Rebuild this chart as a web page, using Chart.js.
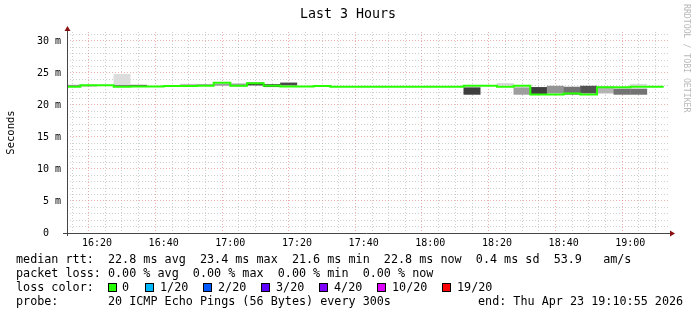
<!DOCTYPE html>
<html lang="en">
<head>
<meta charset="UTF-8">
<title>Last 3 Hours</title>
<script src="https://cdn.jsdelivr.net/npm/chart.js"></script>
<style>
  body { margin: 0; background: #fff; }
  #wrap { position: relative; width: 697px; height: 315px; font-family: "DejaVu Sans Mono", monospace; color: #000; }
  #wrap canvas { position: absolute; left: 0; top: 0; }
  #title { position: absolute; left: 248px; width: 200px; top: 5px; text-align: center; font-size: 13.3px; line-height: 18px; }
  .row { position: absolute; left: 16px; font-size: 11.75px; line-height: 14px; white-space: pre; }
  .sw { position: absolute; top: 283px; width: 7px; height: 7px; border: 1px solid #000; }
  .lab { position: absolute; top: 280px; font-size: 11.75px; line-height: 14px; white-space: pre; }
  #mark { position: absolute; left: 682px; top: 4px; writing-mode: vertical-rl; font-size: 8.2px; color: #b8b8b8; white-space: pre; }
</style>
</head>
<body>
<div id="wrap">
  <canvas id="smoke" width="697" height="315"></canvas>
  <div id="title">Last 3 Hours</div>
  <div id="mark">RRDTOOL / TOBI OETIKER</div>
  <div class="row" style="top:252px">median rtt:  22.8 ms avg  23.4 ms max  21.6 ms min  22.8 ms now  0.4 ms sd  53.9   am/s</div>
  <div class="row" style="top:266px">packet loss: 0.00 % avg  0.00 % max  0.00 % min  0.00 % now</div>
  <div class="row" style="top:280px">loss color:</div>
  <div id="losses"></div>
  <div class="row" style="top:294px">probe:       20 ICMP Echo Pings (56 Bytes) every 300s</div>
  <div class="row" style="top:294px;left:478px">end: Thu Apr 23 19:10:55 2026</div>
</div>

<script>
  // 5 minute slots (start time of each slot)
  const times = ['16:10','16:15','16:20','16:25','16:30','16:35','16:40','16:45','16:50','16:55',
                 '17:00','17:05','17:10','17:15','17:20','17:25','17:30','17:35','17:40','17:45',
                 '17:50','17:55','18:00','18:05','18:10','18:15','18:20','18:25','18:30','18:35',
                 '18:40','18:45','18:50','18:55','19:00','19:05'];

  // median rtt in ms
  const median = [22.86, 22.86, 23.07, 23.10, 22.86, 22.90, 22.90, 22.97, 22.97, 23.00,
                  23.48, 23.00, 23.40, 23.00, 22.88, 22.88, 22.95, 22.85, 22.85, 22.85,
                  22.85, 22.85, 22.85, 22.85, 22.85, 23.00, 23.00, 22.86, 23.00, 21.62,
                  21.62, 21.80, 21.62, 22.75, 22.75, 22.86];

  // smoke band (spread of the pings) and how dense it is
  const smokeLow  = [22.90, 22.90, null, 22.80, 22.95, null, null, 23.00, 23.00, 23.00,
                     22.90, 23.05, 22.80, 23.05, null, null, null, null, null, null,
                     null, null, null, null, 21.60, null, 23.05, 21.60, 21.60, 21.80,
                     21.60, 21.80, 21.80, 21.60, 21.60, null];
  const smokeHigh = [23.15, 23.15, null, 23.10, 23.15, null, null, 23.30, 23.25, 23.30,
                     23.35, 23.50, 23.25, 23.50, null, null, null, null, null, null,
                     null, null, null, null, 22.75, null, 23.40, 22.75, 22.80, 23.00,
                     22.85, 23.00, 22.90, 22.55, 22.55, null];
  const smokeDensity = [0.5, 0.5, 0, 0.7, 0.75, 0, 0, 0.3, 0.45, 0.45,
                        0.45, 0.9, 0.9, 0.85, 0, 0, 0, 0, 0, 0,
                        0, 0, 0, 0, 0.9, 0, 0.2, 0.45, 0.9, 0.5,
                        0.65, 0.8, 0.35, 0.65, 0.65, 0];

  // single outlier pings
  const outlierLow  = {3: 23.10, 34: 22.95};
  const outlierHigh = {3: 24.85, 34: 23.30};

  const lossLevels = ['0', '1/20', '2/20', '3/20', '4/20', '10/20', '19/20'];
  const lossColors = ['#26ff00', '#00b8ff', '#0059ff', '#5e00ff', '#7e00ff', '#dd00ff', '#ff0000'];

  const toMin = t => { const [h, m] = t.split(':').map(Number); return (h - 16) * 60 + m; };
  const fmt = v => { const h = 16 + Math.floor(v / 60), m = v % 60; return h + ':' + String(m).padStart(2, '0'); };
  const shade = d => { const g = Math.round(255 - d * 215); return `rgb(${g},${g},${g})`; };

  // legend squares
  const swX = [108, 145, 203, 261, 319, 377, 442];
  const labX = [122, 160, 218, 276, 334, 392, 457];
  const losses = document.getElementById('losses');
  lossLevels.forEach((l, i) => {
    losses.insertAdjacentHTML('beforeend',
      `<div class="sw" style="left:${swX[i]}px;background:${lossColors[i]}"></div>` +
      `<div class="lab" style="left:${labX[i]}px">${l}</div>`);
  });

  const smokeData = [], smokeCols = [];
  times.forEach((t, i) => {
    if (smokeLow[i] == null) return;
    smokeData.push({ x: toMin(t) + 2.5, y: [smokeLow[i], smokeHigh[i]] });
    smokeCols.push(shade(smokeDensity[i]));
  });
  const outlierData = Object.keys(outlierLow).map(i => ({ x: toMin(times[i]) + 2.5, y: [outlierLow[i], outlierHigh[i]] }));

  const medianData = times.map((t, i) => ({ x: toMin(t), y: median[i] }));
  medianData.push({ x: toMin(times[times.length - 1]) + 5, y: median[median.length - 1] });

  const axes = {
    id: 'axes',
    afterDatasetsDraw(chart) {
      const { ctx, chartArea: a } = chart;
      const y0 = Math.round(a.bottom) + 0.5, x0 = Math.round(a.left) + 0.5;
      ctx.save();
      ctx.strokeStyle = '#444';
      ctx.lineWidth = 1;
      ctx.beginPath();
      ctx.moveTo(a.left - 4, y0); ctx.lineTo(a.right + 2, y0);
      ctx.moveTo(x0, a.bottom + 3); ctx.lineTo(x0, a.top - 1);
      ctx.stroke();
      ctx.fillStyle = '#8a1010';
      ctx.beginPath();
      ctx.moveTo(a.right + 7, y0); ctx.lineTo(a.right + 2, y0 - 3); ctx.lineTo(a.right + 2, y0 + 3);
      ctx.fill();
      ctx.beginPath();
      ctx.moveTo(x0, a.top - 6); ctx.lineTo(x0 - 3, a.top - 1); ctx.lineTo(x0 + 3, a.top - 1);
      ctx.fill();
      ctx.restore();
    }
  };

  const MAJOR = 'rgba(225,120,120,0.6)';
  const MINOR = 'rgba(150,150,150,0.45)';
  const tickFont = { family: 'DejaVu Sans Mono', size: 10 };

  new Chart(document.getElementById('smoke'), {
    type: 'bar',
    data: {
      datasets: [
        {
          type: 'line',
          data: medianData,
          stepped: 'after',
          borderColor: '#26ff00',
          borderWidth: 2,
          pointRadius: 0,
          order: 1
        },
        {
          data: smokeData,
          backgroundColor: smokeCols,
          borderWidth: 0,
          grouped: false,
          barPercentage: 1.02,
          categoryPercentage: 1,
          order: 2
        },
        {
          data: outlierData,
          backgroundColor: '#dcdcdc',
          borderWidth: 0,
          grouped: false,
          barPercentage: 1.02,
          categoryPercentage: 1,
          order: 3
        }
      ]
    },
    options: {
      responsive: false,
      animation: false,
      layout: { padding: { left: 0, right: 29, top: 32, bottom: 62 } },
      plugins: {
        legend: { display: false },
        tooltip: { enabled: false },
        title: { display: false }
      },
      scales: {
        x: {
          type: 'linear',
          min: 11,
          max: 191.3,
          offset: false,
          afterBuildTicks: s => { s.ticks = []; for (let v = 15; v <= 190; v += 5) s.ticks.push({ value: v }); },
          afterFit: s => { s.height = 20; },
          ticks: {
            autoSkip: false, maxRotation: 0, padding: 4, color: '#000', font: tickFont,
            callback: v => v % 20 === 0 ? fmt(v) : ''
          },
          grid: { drawTicks: false, color: c => c.tick && c.tick.value % 20 === 0 ? MAJOR : MINOR },
          border: { display: false, dash: [1, 2] }
        },
        y: {
          min: 0,
          max: 31.4,
          stacked: false,
          afterBuildTicks: s => { s.ticks = []; for (let v = 0; v <= 31; v++) s.ticks.push({ value: v }); },
          afterFit: s => { s.width = 67; },
          ticks: {
            autoSkip: false, padding: 6, color: '#000', font: tickFont,
            callback: v => v % 5 ? '' : (v === 0 ? '0  ' : v + ' m')
          },
          grid: { drawTicks: false, color: c => c.tick && c.tick.value % 5 === 0 ? MAJOR : MINOR },
          border: { display: false, dash: [1, 2] },
          title: {
            display: true,
            text: 'Seconds',
            color: '#000',
            font: { family: 'DejaVu Sans Mono', size: 10.5 },
            padding: { top: 5, bottom: 0 }
          }
        }
      }
    },
    plugins: [axes]
  });
</script>
</body>
</html>
